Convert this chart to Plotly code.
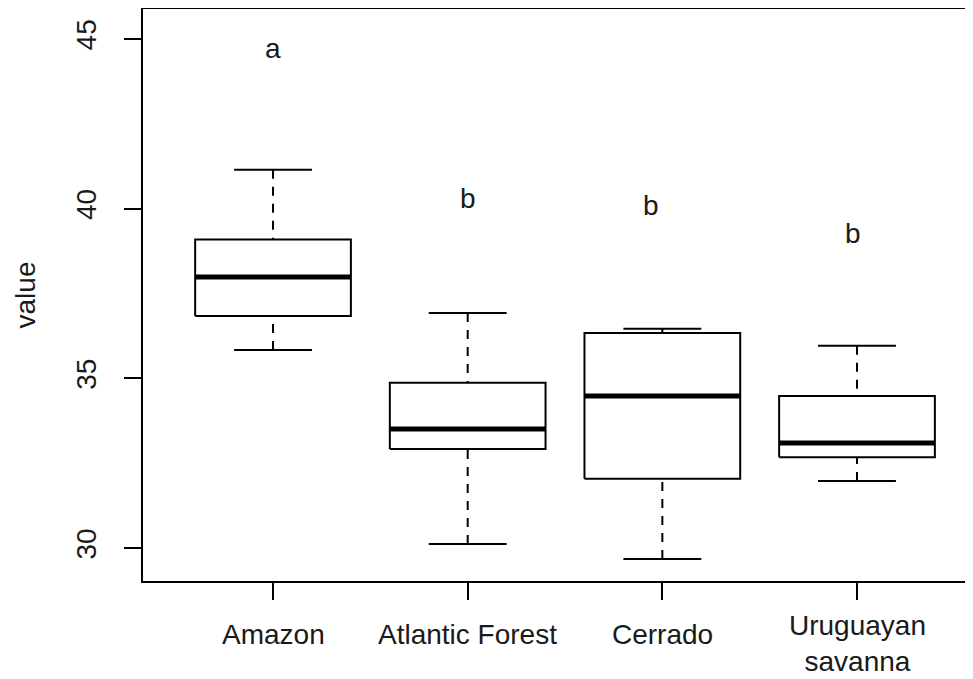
import plotly.graph_objects as go

categories = ["Amazon", "Atlantic Forest", "Cerrado", "Uruguayan<br>savanna"]
positions = [1, 2, 3, 4]
lower_whisker = [35.84, 30.12, 29.68, 31.98]
q1 = [36.84, 32.92, 32.04, 32.68]
median = [37.99, 33.51, 34.48, 33.10]
q3 = [39.09, 34.87, 36.34, 34.48]
upper_whisker = [41.15, 36.93, 36.46, 35.96]

letters = ["a", "b", "b", "b"]
letter_x = [1.0, 2.0, 2.94, 3.98]
letter_y = [44.72, 40.29, 40.09, 39.26]

y_ticks = [30, 35, 40, 45]

BOX_HALF = 0.4
CAP_HALF = 0.2
FONT = "Liberation Sans, Arial, sans-serif"
TXT = "#1a1a1a"

fig = go.Figure()

for i, xc in enumerate(positions):
    # dashed whiskers
    for a, b in [(lower_whisker[i], q1[i]), (upper_whisker[i], q3[i])]:
        fig.add_trace(go.Scatter(x=[xc, xc], y=[a, b], mode="lines",
                                 line=dict(color="black", width=2, dash="9px,8px"),
                                 hoverinfo="skip", showlegend=False))
    # caps
    for v in [lower_whisker[i], upper_whisker[i]]:
        fig.add_trace(go.Scatter(x=[xc - CAP_HALF, xc + CAP_HALF], y=[v, v], mode="lines",
                                 line=dict(color="black", width=2),
                                 hoverinfo="skip", showlegend=False))
    # box
    fig.add_trace(go.Scatter(
        x=[xc - BOX_HALF, xc + BOX_HALF, xc + BOX_HALF, xc - BOX_HALF, xc - BOX_HALF],
        y=[q1[i], q1[i], q3[i], q3[i], q1[i]], mode="lines",
        line=dict(color="black", width=2), fill="toself", fillcolor="white",
        hoverinfo="skip", showlegend=False))
    # median
    fig.add_trace(go.Scatter(x=[xc - BOX_HALF, xc + BOX_HALF], y=[median[i], median[i]],
                             mode="lines", line=dict(color="black", width=5),
                             hoverinfo="skip", showlegend=False))

for lx, ly, t in zip(letter_x, letter_y, letters):
    fig.add_annotation(x=lx, y=ly, text=t, showarrow=False,
                       font=dict(family=FONT, size=28, color=TXT))

# category labels under the x ticks (multi-line label block centred like R's axis())
for xc, lab in zip(positions, categories):
    n_lines = lab.count("<br>") + 1
    fig.add_annotation(x=xc, y=0, xref="x", yref="paper", text=lab, showarrow=False,
                       yanchor="middle", xanchor="center", align="center",
                       yshift=-53 - 9 * (n_lines - 1),
                       font=dict(family=FONT, size=28, color=TXT))

# the page body adds an 8px offset; margins compensate for it
fig.update_layout(
    width=973, height=679,
    margin=dict(l=135, r=0, t=1, b=106),
    paper_bgcolor="white", plot_bgcolor="white",
    font=dict(family=FONT, size=28, color=TXT),
    showlegend=False,
)
fig.update_xaxes(
    range=[0.332, 4.637], tickmode="array", tickvals=positions,
    ticktext=["" for _ in positions],
    showline=True, mirror=True, linecolor="black", linewidth=2,
    ticks="outside", ticklen=17, tickwidth=2, tickcolor="black",
    showgrid=False, zeroline=False, tickfont=dict(size=28, color=TXT),
)
fig.update_yaxes(
    range=[29.03, 45.885], tickmode="array", tickvals=y_ticks,
    ticktext=[str(v) for v in y_ticks],
    showline=True, mirror=False, linecolor="black", linewidth=2,
    ticks="outside", ticklen=17, tickwidth=2, tickcolor="black",
    showgrid=False, zeroline=False, tickangle=-90,
    tickfont=dict(size=28, color=TXT), ticklabelstandoff=17,
    title=dict(text="value", font=dict(size=28, color=TXT), standoff=27),
)

fig.write_html("out.html")
